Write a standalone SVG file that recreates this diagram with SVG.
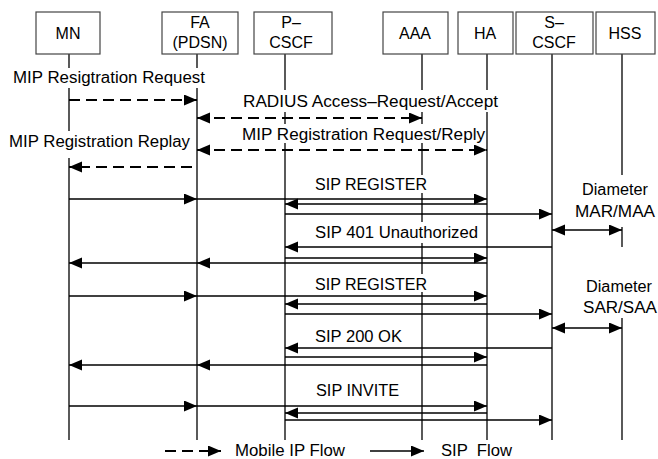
<svg xmlns="http://www.w3.org/2000/svg" width="658" height="459" viewBox="0 0 658 459">
<style>
.box{fill:#fff;stroke:#444;stroke-width:1.2}
.life{stroke:#000;stroke-width:1.3;fill:none}
.t{font-family:"Liberation Sans",Arial,sans-serif;font-size:16px;fill:#000}
.c{text-anchor:middle}
.bg{fill:#fff}
.sol{stroke:#000;stroke-width:1.5;fill:none}
.dsh{stroke:#000;stroke-width:2;fill:none;stroke-dasharray:11 6}
</style>
<defs>
<marker id="ah" markerUnits="userSpaceOnUse" markerWidth="14" markerHeight="12" refX="13" refY="5.5" orient="auto-start-reverse">
<path d="M0,0 L13,5.5 L0,11 z" fill="#000"/>
</marker>
</defs>
<rect width="658" height="459" fill="#fff"/>
<g id="MN"><line class="life" x1="69" y1="54" x2="69" y2="440"/><rect class="box" x="36" y="12" width="64" height="42"/><text class="t c" x="68" y="39">MN</text></g>
<g id="FA"><line class="life" x1="197" y1="54" x2="197" y2="440"/><rect class="box" x="162" y="12" width="76" height="42"/><text class="t c" x="200" y="28">FA</text><text class="t c" x="200" y="48">(PDSN)</text></g>
<g id="PCSCF"><line class="life" x1="285" y1="54" x2="285" y2="440"/><rect class="box" x="254" y="12" width="78" height="42"/><text class="t c" x="291" y="28">P–</text><text class="t c" x="291" y="48">CSCF</text></g>
<g id="AAA"><line class="life" x1="422" y1="54" x2="422" y2="440"/><rect class="box" x="383" y="12" width="65" height="42"/><text class="t c" x="415" y="39">AAA</text></g>
<g id="HA"><line class="life" x1="487" y1="54" x2="487" y2="440"/><rect class="box" x="458" y="12" width="55" height="42"/><text class="t c" x="485" y="39">HA</text></g>
<g id="SCSCF"><line class="life" x1="552" y1="54" x2="552" y2="440"/><rect class="box" x="516" y="12" width="77" height="42"/><text class="t c" x="554" y="28">S–</text><text class="t c" x="554" y="48">CSCF</text></g>
<g id="HSS"><line class="life" x1="622" y1="54" x2="622" y2="440"/><rect class="box" x="596" y="12" width="59" height="42"/><text class="t c" x="625" y="39">HSS</text></g>
<g id="label-bg">
<rect class="bg" x="11" y="68" width="196" height="20"/>
<rect class="bg" x="241" y="90" width="260" height="22"/>
<rect class="bg" x="240" y="124" width="246" height="19"/>
<rect class="bg" x="7" y="131" width="186" height="27"/>
<rect class="bg" x="313" y="175" width="116" height="18"/>
<rect class="bg" x="572" y="175" width="85" height="52"/>
<rect class="bg" x="313" y="222" width="167" height="21"/>
<rect class="bg" x="313" y="274" width="116" height="18"/>
<rect class="bg" x="572" y="247" width="86" height="71"/>
</g>
<g id="connectors">
<line class="dsh" x1="69" y1="100" x2="197" y2="100" marker-end="url(#ah)"/>
<line class="dsh" x1="197" y1="118" x2="422" y2="118" marker-start="url(#ah)" marker-end="url(#ah)"/>
<line class="dsh" x1="197" y1="150" x2="487" y2="150" marker-start="url(#ah)" marker-end="url(#ah)"/>
<line class="dsh" x1="192" y1="167" x2="69" y2="167" marker-end="url(#ah)"/>
<line class="sol" x1="69" y1="199" x2="197" y2="199" marker-end="url(#ah)"/>
<line class="sol" x1="197" y1="199" x2="487" y2="199" marker-end="url(#ah)"/>
<line class="sol" x1="487" y1="204" x2="285" y2="204" marker-end="url(#ah)"/>
<line class="sol" x1="285" y1="214" x2="552" y2="214" marker-end="url(#ah)"/>
<line class="sol" x1="552" y1="230" x2="622" y2="230" marker-start="url(#ah)" marker-end="url(#ah)"/>
<line class="sol" x1="552" y1="247" x2="285" y2="247" marker-end="url(#ah)"/>
<line class="sol" x1="285" y1="258" x2="487" y2="258" marker-end="url(#ah)"/>
<line class="sol" x1="487" y1="263" x2="197" y2="263" marker-end="url(#ah)"/>
<line class="sol" x1="197" y1="263" x2="69" y2="263" marker-end="url(#ah)"/>
<line class="sol" x1="69" y1="296" x2="197" y2="296" marker-end="url(#ah)"/>
<line class="sol" x1="197" y1="296" x2="487" y2="296" marker-end="url(#ah)"/>
<line class="sol" x1="487" y1="304" x2="285" y2="304" marker-end="url(#ah)"/>
<line class="sol" x1="285" y1="314" x2="552" y2="314" marker-end="url(#ah)"/>
<line class="sol" x1="552" y1="328" x2="622" y2="328" marker-start="url(#ah)" marker-end="url(#ah)"/>
<line class="sol" x1="552" y1="348" x2="285" y2="348" marker-end="url(#ah)"/>
<line class="sol" x1="285" y1="357" x2="487" y2="357" marker-end="url(#ah)"/>
<line class="sol" x1="487" y1="365" x2="197" y2="365" marker-end="url(#ah)"/>
<line class="sol" x1="197" y1="365" x2="69" y2="365" marker-end="url(#ah)"/>
<line class="sol" x1="69" y1="406" x2="197" y2="406" marker-end="url(#ah)"/>
<line class="sol" x1="197" y1="406" x2="487" y2="406" marker-end="url(#ah)"/>
<line class="sol" x1="487" y1="413" x2="285" y2="413" marker-end="url(#ah)"/>
<line class="sol" x1="285" y1="420" x2="552" y2="420" marker-end="url(#ah)"/>
<line class="dsh" x1="165" y1="451" x2="221" y2="451" marker-end="url(#ah)"/>
<line class="sol" x1="370" y1="451" x2="424" y2="451" marker-end="url(#ah)"/>
</g>
<g id="labels">
<text class="t" x="13" y="83" textLength="192" lengthAdjust="spacingAndGlyphs">MIP Resigtration Request</text>
<text class="t" x="243" y="107" textLength="255" lengthAdjust="spacingAndGlyphs">RADIUS Access–Request/Accept</text>
<text class="t" x="242" y="140" textLength="243" lengthAdjust="spacingAndGlyphs">MIP Registration Request/Reply</text>
<text class="t" x="9" y="147" textLength="181" lengthAdjust="spacingAndGlyphs">MIP Registration Replay</text>
<text class="t" x="315" y="190" textLength="112" lengthAdjust="spacingAndGlyphs">SIP REGISTER</text>
<text class="t" x="582" y="195" textLength="66" lengthAdjust="spacingAndGlyphs">Diameter</text>
<text class="t" x="575" y="217" textLength="80" lengthAdjust="spacingAndGlyphs">MAR/MAA</text>
<text class="t" x="315" y="238" textLength="163" lengthAdjust="spacingAndGlyphs">SIP 401 Unauthorized</text>
<text class="t" x="315" y="290" textLength="112" lengthAdjust="spacingAndGlyphs">SIP REGISTER</text>
<text class="t" x="586" y="292" textLength="66" lengthAdjust="spacingAndGlyphs">Diameter</text>
<text class="t" x="583" y="313" textLength="74" lengthAdjust="spacingAndGlyphs">SAR/SAA</text>
<text class="t" x="315" y="342" textLength="87" lengthAdjust="spacingAndGlyphs">SIP 200 OK</text>
<text class="t" x="316" y="396" textLength="83" lengthAdjust="spacingAndGlyphs">SIP INVITE</text>
<text class="t" x="235" y="456" textLength="110" lengthAdjust="spacingAndGlyphs">Mobile IP Flow</text>
<text class="t" x="441" y="456" textLength="71" lengthAdjust="spacingAndGlyphs" xml:space="preserve">SIP  Flow</text>
</g>
</svg>
